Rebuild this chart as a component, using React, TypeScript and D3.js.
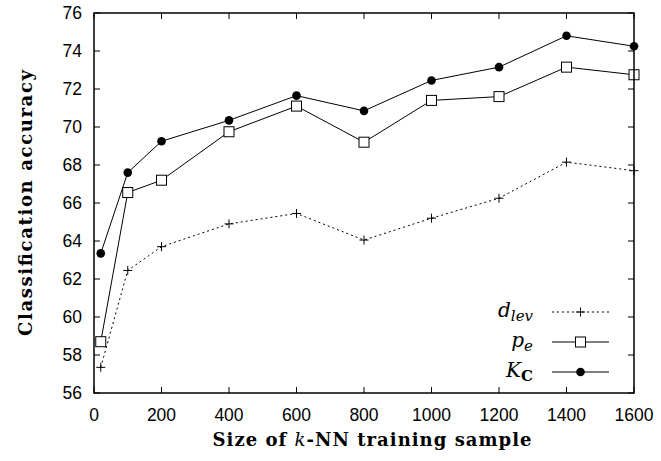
import { useEffect, useRef } from "react";
import * as d3 from "d3";

const W = 661, H = 461;
const M = { top: 13, right: 27, bottom: 68, left: 94 };

const sizes = [20, 100, 200, 400, 600, 800, 1000, 1200, 1400, 1600];
const dLev = [57.35, 62.45, 63.7, 64.9, 65.45, 64.05, 65.2, 66.25, 68.15, 67.7];
const pE = [58.7, 66.55, 67.2, 69.75, 71.1, 69.2, 71.4, 71.6, 73.15, 72.75];
const kC = [63.35, 67.6, 69.25, 70.35, 71.65, 70.85, 72.45, 73.15, 74.8, 74.25];

const xTicks = [0, 200, 400, 600, 800, 1000, 1200, 1400, 1600];
const yTicks = [56, 58, 60, 62, 64, 66, 68, 70, 72, 74, 76];

const SANS = "'Liberation Sans', Arial, Helvetica, sans-serif";
const SERIF = "'DejaVu Serif', 'Liberation Serif', serif";

type Marker = "plus" | "square" | "circle";

export default function App() {
  const ref = useRef<SVGSVGElement>(null);

  useEffect(() => {
    if (!ref.current) return;
    const svg = d3.select(ref.current);
    svg.selectAll("*").remove();

    const x = d3.scaleLinear().domain([0, 1600]).range([M.left, W - M.right]);
    const y = d3.scaleLinear().domain([56, 76]).range([H - M.bottom, M.top]);
    const x0 = M.left, x1 = W - M.right, y0 = H - M.bottom, y1 = M.top;

    // ticks (inward, on all four sides)
    const g = svg.append("g").attr("stroke", "#000").attr("stroke-width", 1);
    xTicks.forEach((t) => {
      g.append("line").attr("x1", x(t)).attr("x2", x(t)).attr("y1", y0).attr("y2", y0 - 6);
      g.append("line").attr("x1", x(t)).attr("x2", x(t)).attr("y1", y1).attr("y2", y1 + 6);
    });
    yTicks.forEach((t) => {
      g.append("line").attr("x1", x0).attr("x2", x0 + 6).attr("y1", y(t)).attr("y2", y(t));
      g.append("line").attr("x1", x1).attr("x2", x1 - 6).attr("y1", y(t)).attr("y2", y(t));
    });

    svg.append("g").selectAll("text").data(xTicks).join("text")
      .attr("x", (d) => x(d)).attr("y", y0 + 28)
      .attr("text-anchor", "middle")
      .attr("font-family", SANS).attr("font-size", 17.5)
      .text((d) => d);

    svg.append("g").selectAll("text").data(yTicks).join("text")
      .attr("x", x0 - 12).attr("y", (d) => y(d) + 6)
      .attr("text-anchor", "end")
      .attr("font-family", SANS).attr("font-size", 17.5)
      .text((d) => d);

    const drawMarker = (sel: d3.Selection<SVGGElement, unknown, null, undefined>, m: Marker, cx: number, cy: number) => {
      if (m === "plus") {
        sel.append("path").attr("d", `M${cx - 4.5},${cy}H${cx + 4.5}M${cx},${cy - 4.5}V${cy + 4.5}`)
          .attr("stroke", "#000").attr("stroke-width", 1).attr("fill", "none");
      } else if (m === "square") {
        sel.append("rect").attr("x", cx - 5).attr("y", cy - 5).attr("width", 10).attr("height", 10)
          .attr("fill", "#fff").attr("stroke", "#000").attr("stroke-width", 1);
      } else {
        sel.append("circle").attr("cx", cx).attr("cy", cy).attr("r", 4.3).attr("fill", "#000");
      }
    };

    const series: { vals: number[]; marker: Marker; dash: string | null; label: string }[] = [
      { vals: dLev, marker: "plus", dash: "2,3", label: "d_lev" },
      { vals: pE, marker: "square", dash: null, label: "p_e" },
      { vals: kC, marker: "circle", dash: null, label: "K_C" },
    ];

    const line = d3.line<number>().x((_, i) => x(sizes[i])).y((d) => y(d));

    series.forEach((s) => {
      const sg = svg.append("g");
      sg.append("path").attr("d", line(s.vals))
        .attr("fill", "none").attr("stroke", "#000").attr("stroke-width", 1)
        .attr("stroke-dasharray", s.dash);
      s.vals.forEach((v, i) => drawMarker(sg, s.marker, x(sizes[i]), y(v)));
    });

    // frame
    svg.append("rect").attr("x", x0).attr("y", y1).attr("width", x1 - x0).attr("height", y0 - y1)
      .attr("fill", "none").attr("stroke", "#000").attr("stroke-width", 1.5);

    // legend
    const legY = [312, 342, 372];
    series.forEach((s, i) => {
      const lg = svg.append("g");
      const ly = legY[i];
      lg.append("line").attr("x1", 552).attr("x2", 609).attr("y1", ly).attr("y2", ly)
        .attr("stroke", "#000").attr("stroke-width", 1).attr("stroke-dasharray", s.dash);
      drawMarker(lg, s.marker, 580.5, ly);
      const t = lg.append("text").attr("x", 533).attr("y", ly + 5).attr("text-anchor", "end")
        .attr("font-family", SERIF).attr("font-style", "italic").attr("font-size", 20);
      if (s.label === "d_lev") {
        t.append("tspan").text("d");
        t.append("tspan").attr("font-size", 15).attr("dy", 4).text("lev");
      } else if (s.label === "p_e") {
        t.append("tspan").text("p");
        t.append("tspan").attr("font-size", 15).attr("dy", 4).text("e");
      } else {
        t.append("tspan").text("K");
        t.append("tspan").attr("font-size", 15).attr("dy", 4).attr("font-style", "normal").attr("font-weight", "bold").text("C");
      }
    });

    // axis titles
    const xt = svg.append("text").attr("x", (x0 + x1) / 2 + 8).attr("y", 446).attr("text-anchor", "middle")
      .attr("font-family", SERIF).attr("font-weight", "bold").attr("font-size", 18)
      .attr("textLength", 319).attr("lengthAdjust", "spacing");
    xt.append("tspan").text("Size of ");
    xt.append("tspan").attr("font-style", "italic").attr("font-weight", "normal").text("k");
    xt.append("tspan").text("-NN training sample");

    svg.append("text").attr("transform", `translate(32,${(y0 + y1) / 2}) rotate(-90)`)
      .attr("text-anchor", "middle")
      .attr("font-family", SERIF).attr("font-weight", "bold").attr("font-size", 18)
      .attr("textLength", 266).attr("lengthAdjust", "spacing")
      .text("Classification accuracy");
  }, []);

  return (
    <svg ref={ref} width={W} height={H}
      style={{ position: "absolute", left: 0, top: 0, background: "#fff" }} />
  );
}
